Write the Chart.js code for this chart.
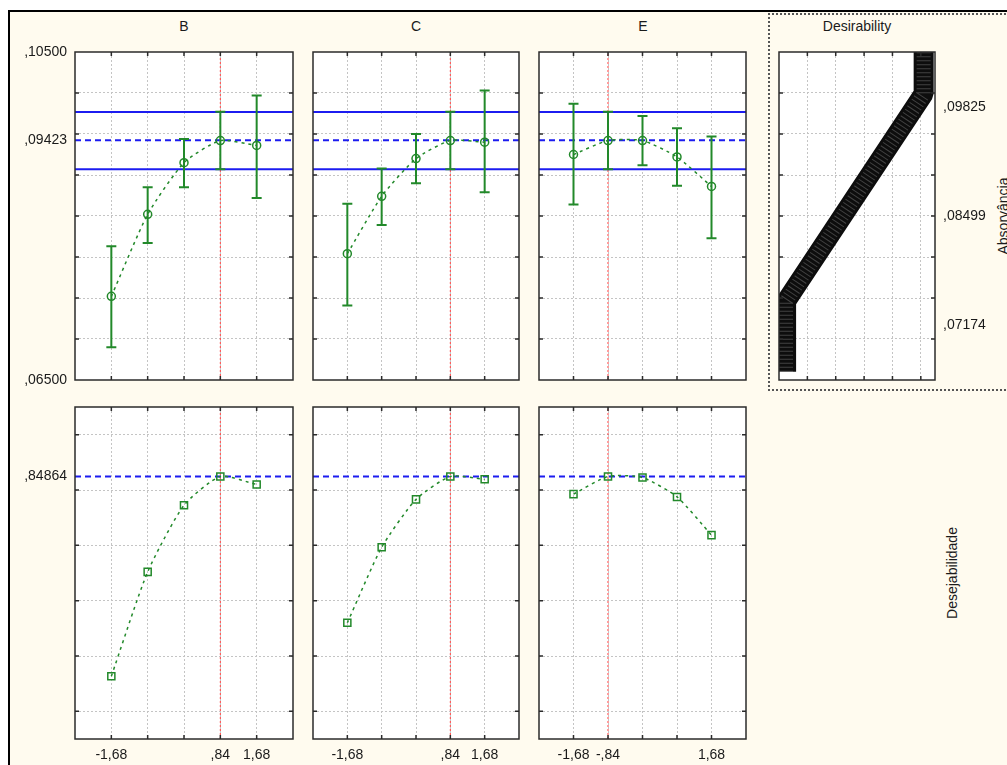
<!DOCTYPE html>
<html>
<head>
<meta charset="utf-8">
<script src="https://cdn.jsdelivr.net/npm/chart.js@4.4.0/dist/chart.umd.min.js"></script>
<style>
  html, body { margin: 0; padding: 0; background: #fff; }
  #page { position: relative; width: 1007px; height: 765px; overflow: hidden; background: #fff;
          font-family: "Liberation Sans", Arial, sans-serif; }
  #frame { position: absolute; left: 8px; top: 10px; width: 1020px; height: 780px;
           border-left: 2px solid #000; border-top: 2px solid #000; background: #fffbef; }
  #dbox { position: absolute; left: 768px; top: 13px; width: 270px; height: 374px; border: 2px dotted #555; }
  canvas { position: absolute; }
  .lbl { position: absolute; font-size: 14px; color: #1a1a1a; white-space: nowrap; transform: translate(-50%, -50%); }
  .rot { transform: translate(-50%, -50%) rotate(-90deg); }
</style>
</head>
<body>
<div id="page">
  <div id="frame"></div>
  <div id="dbox"></div>
  <div class="lbl" style="left:184px;top:26px">B</div>
  <div class="lbl" style="left:416px;top:26px">C</div>
  <div class="lbl" style="left:643px;top:26px">E</div>
  <div class="lbl" style="left:857px;top:26px">Desirability</div>
  <div class="lbl rot" style="left:1003px;top:216px">Absorvância</div>
  <div class="lbl rot" style="left:952px;top:573px">Desejabilidade</div>
</div>
<script>
// níveis codificados dos fatores
const xLevels = [-1.68, -0.84, 0, 0.84, 1.68]
const xMin = -2.52, xMax = 2.52

// absorbância prevista + intervalo de confiança (linha de cima)
const absB = [0.0752, 0.0852, 0.0915, 0.0942, 0.0936]
const absBLo = [0.0690, 0.0817, 0.0885, 0.0907, 0.0872]
const absBHi = [0.0813, 0.0885, 0.0944, 0.0977, 0.0997]
const absC = [0.0804, 0.0874, 0.0920, 0.0942, 0.0940]
const absCLo = [0.0741, 0.0839, 0.0890, 0.0907, 0.0879]
const absCHi = [0.0865, 0.0908, 0.0950, 0.0977, 0.1003]
const absE = [0.0925, 0.0942, 0.0942, 0.0922, 0.0886]
const absELo = [0.0864, 0.0907, 0.0912, 0.0887, 0.0823]
const absEHi = [0.0987, 0.0977, 0.0972, 0.0957, 0.0947]

// desejabilidade (linha de baixo)
const desB = [0.127, 0.504, 0.745, 0.849, 0.820]
const desC = [0.320, 0.593, 0.766, 0.849, 0.839]
const desE = [0.785, 0.849, 0.845, 0.775, 0.637]

// valores no ótimo
const optB = 0.84, optC = 0.84, optE = -0.84
const absOpt = 0.09423, absOptLo = 0.09071, absOptHi = 0.09769
const desOpt = 0.84864

// perfil da função desejabilidade (d, absorbância)
const profD = [0.05, 0.05, 1.02, 1.02]
const profA = [0.0660, 0.0746, 0.0999, 0.1050]

// eixos / rótulos
const absMin = 0.065, absMax = 0.105
const desMin = -0.1, desMax = 1.1
const absGrid = [0.070, 0.075, 0.080, 0.085, 0.090, 0.095, 0.100]
const desGrid = [0, 0.2, 0.4, 0.6, 0.8, 1.0]
const profGridX = [0.2, 0.4, 0.6, 0.8, 1.0]
const absLabelTicks = [0.105, 0.09423, 0.065]
const desLabelTicks = [0.84864]
const profLabelTicks = [0.09825, 0.08499, 0.07174]
const xLabelsBC = ['-1,68', '', '', ',84', '1,68']
const xLabelsE = ['-1,68', '-,84', '', '', '1,68']

const GREEN = '#22892a', BLUE = '#1c1cf0', RED = '#ff3c3c', GRID = '#c4c4c4', INK = '#1a1a1a'
const tickFont = { family: "'Liberation Sans', Arial, sans-serif", size: 14 }
const LW = 75, PT = 10, PR = 12, PB = 30, RW = 75

const page = document.getElementById('page')
const fmt = v => v.toFixed(5).replace(/^0\./, ',')
const pts = (xs, ys) => xs.map((x, i) => ({ x, y: ys[i] }))

const framePlugin = {
  id: 'frame',
  beforeDraw(chart) {
    const a = chart.chartArea, ctx = chart.ctx
    ctx.save()
    ctx.fillStyle = '#fff'
    ctx.fillRect(a.left, a.top, a.width, a.height)
    ctx.restore()
  },
  afterDraw(chart) {
    const a = chart.chartArea, ctx = chart.ctx
    const xs = chart.scales.x, ys = chart.scales.y
    ctx.save()
    ctx.strokeStyle = '#2b2b2b'
    ctx.lineWidth = 1.5
    ctx.beginPath()
    xs.ticks.forEach(t => {
      const px = xs.getPixelForValue(t.value)
      ctx.moveTo(px, a.top); ctx.lineTo(px, a.top + 4)
      ctx.moveTo(px, a.bottom); ctx.lineTo(px, a.bottom - 4)
    })
    ys.ticks.forEach(t => {
      const py = ys.getPixelForValue(t.value)
      ctx.moveTo(a.left, py); ctx.lineTo(a.left + 4, py)
      ctx.moveTo(a.right, py); ctx.lineTo(a.right - 4, py)
    })
    ctx.stroke()
    ctx.strokeRect(a.left, a.top, a.width, a.height)
    ctx.restore()
  }
}

// barras de erro, desenhadas logo antes da série verde (dataset 0)
const errBars = (err) => ({
  id: 'errbars',
  beforeDatasetDraw(chart, args) {
    if (!err || args.index !== 0) return
    const xs = chart.scales.x, ys = chart.scales.y, ctx = chart.ctx
    ctx.save()
    ctx.strokeStyle = GREEN
    ctx.lineWidth = 2
    ctx.beginPath()
    xLevels.forEach((xv, i) => {
      const px = xs.getPixelForValue(xv)
      const lo = ys.getPixelForValue(err.lo[i]), hi = ys.getPixelForValue(err.hi[i])
      ctx.moveTo(px, lo); ctx.lineTo(px, hi)
      ctx.moveTo(px - 5, lo); ctx.lineTo(px + 5, lo)
      ctx.moveTo(px - 5, hi); ctx.lineTo(px + 5, hi)
    })
    ctx.stroke()
    ctx.restore()
  }
})

const hline = (y, dash) => ({
  data: [{ x: xMin, y }, { x: xMax, y }],
  borderColor: BLUE, borderWidth: 2, borderDash: dash, pointRadius: 0, tension: 0
})
const vline = (x, y0, y1) => ({
  data: [{ x, y: y0 }, { x, y: y1 }],
  borderColor: RED, borderWidth: 1, borderDash: [2, 2], pointRadius: 0, tension: 0
})
const series = (ys, style) => ({
  data: pts(xLevels, ys),
  borderColor: GREEN, borderWidth: 1.5, borderDash: [3, 4], tension: 0.2,
  pointStyle: style, pointRadius: style === 'rect' ? 5 : 4,
  pointBorderColor: GREEN, pointBorderWidth: 1.5, pointBackgroundColor: 'rgba(255,255,255,0)'
})

// eixo só de rótulos: sem reservar espaço extra acima/abaixo
const noPad = w => s => { s.width = w; s.paddingTop = 0; s.paddingBottom = 0 }

function panel(rect, p) {
  const cv = document.createElement('canvas')
  const right = p.rightLabels ? RW : PR
  cv.width = rect.w + LW + right
  cv.height = rect.h + PT + PB
  cv.style.left = (rect.l - LW) + 'px'
  cv.style.top = (rect.t - PT) + 'px'
  page.appendChild(cv)

  const scales = {
    x: {
      type: 'linear', min: p.xMin, max: p.xMax,
      afterBuildTicks: s => { s.ticks = p.xGrid.map(v => ({ value: v })) },
      afterFit: s => { s.height = PB; s.paddingLeft = 0; s.paddingRight = 0 },
      grid: { color: GRID, drawTicks: false },
      border: { display: false, dash: [2, 2] },
      ticks: {
        autoSkip: false, maxRotation: 0, padding: 8, color: INK, font: tickFont,
        callback: v => { const i = p.xGrid.indexOf(v); return p.xLabels && i >= 0 ? p.xLabels[i] : '' }
      }
    },
    y: {
      type: 'linear', position: 'left', min: p.yMin, max: p.yMax,
      afterBuildTicks: s => { s.ticks = p.yGrid.map(v => ({ value: v })) },
      afterFit: noPad(p.yLabels ? 0 : LW),
      grid: { color: GRID, drawTicks: false },
      border: { display: false, dash: [2, 2] },
      ticks: { display: false }
    }
  }
  if (p.yLabels) {
    scales.yl = {
      type: 'linear', position: 'left', min: p.yMin, max: p.yMax,
      afterBuildTicks: s => { s.ticks = p.yLabels.map(v => ({ value: v })) },
      afterFit: noPad(LW),
      grid: { display: false, drawTicks: false },
      border: { display: false },
      ticks: { autoSkip: false, padding: 8, color: INK, font: tickFont, callback: v => fmt(v) }
    }
  }
  if (p.rightLabels) {
    scales.yr = {
      type: 'linear', position: 'right', min: p.yMin, max: p.yMax,
      afterBuildTicks: s => { s.ticks = p.rightLabels.map(v => ({ value: v })) },
      afterFit: noPad(RW),
      grid: { display: false, drawTicks: false },
      border: { display: false },
      ticks: { autoSkip: false, padding: 8, color: INK, font: tickFont, callback: v => fmt(v) }
    }
  }

  new Chart(cv, {
    type: 'line',
    data: { datasets: p.datasets },
    options: {
      responsive: false, animation: false, events: [],
      layout: { padding: { top: PT, right: p.rightLabels ? 0 : PR, left: 0, bottom: 0 } },
      plugins: { legend: { display: false }, tooltip: { enabled: false } },
      scales
    },
    plugins: [framePlugin, errBars(p.err)]
  })
}

const topRow = { t: 52, h: 328 }
const botRow = { t: 407, h: 332 }
const cols = [{ l: 75, w: 218 }, { l: 313, w: 206 }, { l: 539, w: 207 }]

const absSets = [[absB, absBLo, absBHi, optB], [absC, absCLo, absCHi, optC], [absE, absELo, absEHi, optE]]
const desSets = [[desB, optB, xLabelsBC], [desC, optC, xLabelsBC], [desE, optE, xLabelsE]]

cols.forEach((c, i) => {
  const [ys, lo, hi, opt] = absSets[i]
  panel({ l: c.l, t: topRow.t, w: c.w, h: topRow.h }, {
    xMin, xMax, xGrid: xLevels, xLabels: null,
    yMin: absMin, yMax: absMax, yGrid: absGrid, yLabels: i === 0 ? absLabelTicks : null,
    err: { lo, hi },
    datasets: [series(ys, 'circle'), hline(absOptHi, []), hline(absOptLo, []), hline(absOpt, [6, 4]), vline(opt, absMin, absMax)]
  })
  const [ds, dopt, xl] = desSets[i]
  panel({ l: c.l, t: botRow.t, w: c.w, h: botRow.h }, {
    xMin, xMax, xGrid: xLevels, xLabels: xl,
    yMin: desMin, yMax: desMax, yGrid: desGrid, yLabels: i === 0 ? desLabelTicks : null,
    err: null,
    datasets: [series(ds, 'rect'), hline(desOpt, [6, 4]), vline(dopt, desMin, desMax)]
  })
})

// perfil de desejabilidade
panel({ l: 779, t: topRow.t, w: 156, h: topRow.h }, {
  xMin: 0, xMax: 1.1, xGrid: profGridX, xLabels: null,
  yMin: absMin, yMax: absMax, yGrid: absGrid, yLabels: null, rightLabels: profLabelTicks,
  err: null,
  datasets: [
    { data: pts(profD, profA), borderColor: 'rgba(255,255,255,0.22)', borderWidth: 14, borderDash: [1, 3], pointRadius: 0, tension: 0 },
    { data: pts(profD, profA), borderColor: '#0d0d0d', borderWidth: 20, borderJoinStyle: 'bevel', pointRadius: 0, tension: 0 }
  ]
})
</script>
</body>
</html>
